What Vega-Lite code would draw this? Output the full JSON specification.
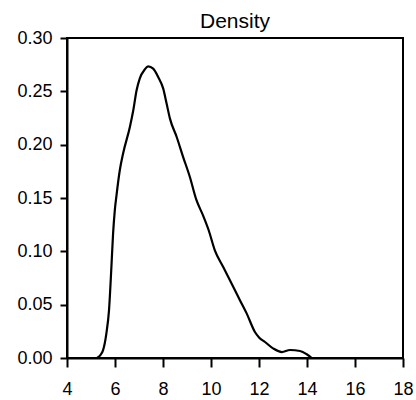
{
  "$schema": "https://vega.github.io/schema/vega-lite/v6.json",
  "autosize": "none",
  "width": 336,
  "height": 320,
  "padding": {"left": 67, "top": 38, "right": 13, "bottom": 42},
  "background": "white",
  "title": {
    "text": "Density",
    "font": "Liberation Sans",
    "fontSize": 21,
    "fontWeight": "normal",
    "color": "black",
    "anchor": "middle",
    "offset": -3
  },
  "config": {
    "view": {"stroke": "black", "strokeWidth": 2},
    "axis": {
      "grid": false,
      "domainColor": "black",
      "domainWidth": 2,
      "tickColor": "black",
      "tickWidth": 2,
      "labelFont": "Liberation Sans",
      "labelFontSize": 18,
      "labelColor": "black",
      "title": null
    }
  },
  "data": {
    "values": [
      {"x": 5.25, "y": 0.0},
      {"x": 5.4, "y": 0.003},
      {"x": 5.5, "y": 0.0072},
      {"x": 5.64, "y": 0.0229},
      {"x": 5.75, "y": 0.0447},
      {"x": 5.85, "y": 0.0853},
      {"x": 5.92, "y": 0.1166},
      {"x": 5.99, "y": 0.138},
      {"x": 6.06, "y": 0.152},
      {"x": 6.2, "y": 0.176},
      {"x": 6.34, "y": 0.192},
      {"x": 6.62, "y": 0.2166},
      {"x": 6.76, "y": 0.232},
      {"x": 6.9, "y": 0.251},
      {"x": 7.03, "y": 0.262},
      {"x": 7.24, "y": 0.2705},
      {"x": 7.38, "y": 0.2734},
      {"x": 7.59, "y": 0.2713},
      {"x": 7.8, "y": 0.2634},
      {"x": 8.01, "y": 0.2525},
      {"x": 8.15, "y": 0.2385},
      {"x": 8.29, "y": 0.2244},
      {"x": 8.57, "y": 0.2072},
      {"x": 8.84, "y": 0.1884},
      {"x": 9.12, "y": 0.1697},
      {"x": 9.38, "y": 0.149},
      {"x": 9.68, "y": 0.133},
      {"x": 9.9, "y": 0.12},
      {"x": 10.16, "y": 0.101},
      {"x": 10.51, "y": 0.0853},
      {"x": 10.93, "y": 0.0666},
      {"x": 11.21, "y": 0.054},
      {"x": 11.49, "y": 0.0416},
      {"x": 11.83, "y": 0.0244},
      {"x": 12.01, "y": 0.0191},
      {"x": 12.25, "y": 0.015},
      {"x": 12.6, "y": 0.0088},
      {"x": 12.95, "y": 0.0056},
      {"x": 13.29, "y": 0.0075},
      {"x": 13.71, "y": 0.0066},
      {"x": 13.99, "y": 0.0035},
      {"x": 14.2, "y": 0.0}
    ]
  },
  "mark": {"type": "line", "color": "black", "strokeWidth": 2.2, "interpolate": "monotone"},
  "encoding": {
    "x": {
      "field": "x",
      "type": "quantitative",
      "scale": {"domain": [4, 18], "nice": false, "zero": false},
      "axis": {"values": [4, 6, 8, 10, 12, 14, 16, 18], "tickSize": 9, "labelPadding": 13, "labelFlush": false, "labelOverlap": false}
    },
    "y": {
      "field": "y",
      "type": "quantitative",
      "scale": {"domain": [0, 0.3], "nice": false},
      "axis": {"values": [0, 0.05, 0.1, 0.15, 0.2, 0.25, 0.3], "format": ".2f", "tickSize": 7, "labelPadding": 8, "labelFlush": false}
    }
  }
}
